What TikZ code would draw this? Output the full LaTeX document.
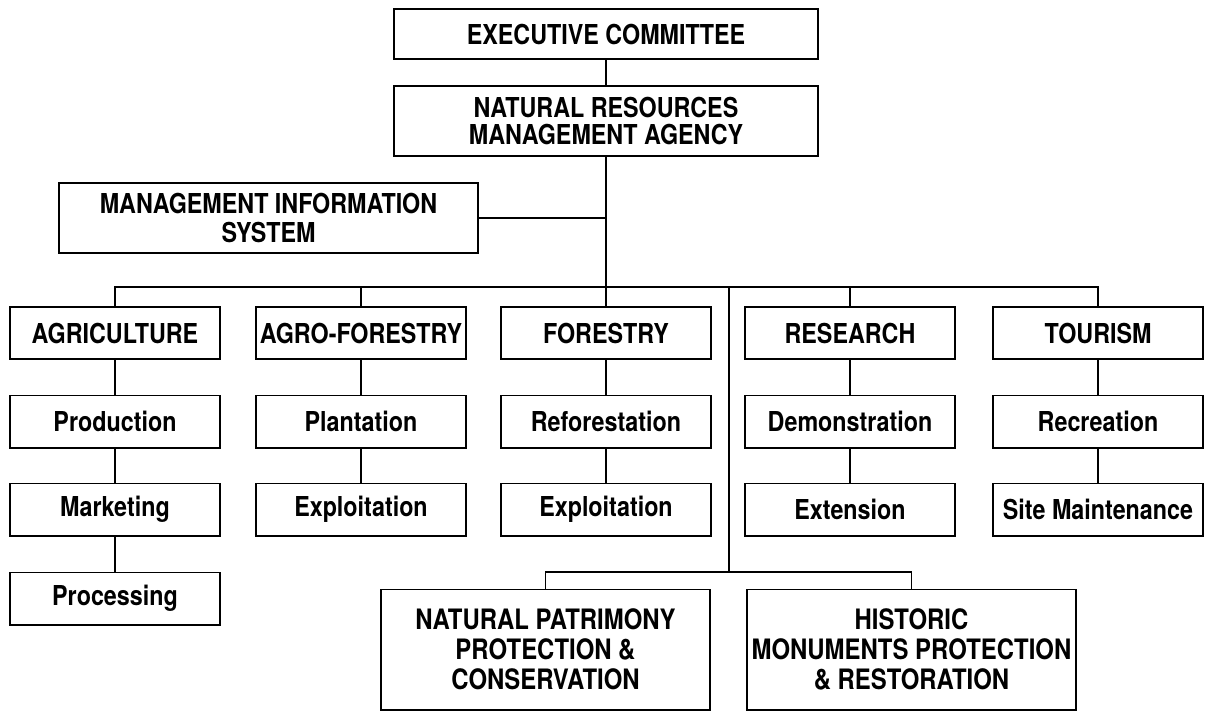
\documentclass[tikz,border=0pt]{standalone}
\usepackage{fontspec}
\setmainfont{TeX Gyre Heros}[FakeStretch=0.85]
\usetikzlibrary{positioning}

\begin{document}
\begin{tikzpicture}[
            x=0.025cm, y=-0.025cm,
            every node/.style={font=\fontsize{19.5}{19.5}\selectfont\bfseries},
            unit/.style={draw, line width=1.4pt, align=center, inner sep=0pt},
            post/.style={unit, minimum width=5.25cm, minimum height=1.3cm},
            wide/.style={unit, minimum width=8.225cm, minimum height=3cm,
                font=\fontsize{20}{21.5}\selectfont\bfseries},
            link/.style={line width=1.1pt}
        ]
            \useasboundingbox (0,0) rectangle (1208,712);
            % Top of the chart
            \node[unit, minimum width=10.6cm, minimum height=1.25cm] (exec) at (606,34) {EXECUTIVE COMMITTEE};
            \node[unit, minimum width=10.6cm, minimum height=1.75cm] (nrma) at (606,121) {NATURAL RESOURCES\\MANAGEMENT AGENCY};
            \node[unit, minimum width=10.475cm, minimum height=1.75cm,
                font=\fontsize{19.5}{20.5}\selectfont\bfseries] (mis) at (268.5,218) {MANAGEMENT INFORMATION\\SYSTEM};
            % Divisions
            \node[post] (agri) at (115,333) {AGRICULTURE};
            \node[post] (agro) at (361,333) {AGRO-FORESTRY};
            \node[post] (fore) at (606,333) {FORESTRY};
            \node[post] (rese) at (850,333) {RESEARCH};
            \node[post] (tour) at (1098,333) {TOURISM};
            % Sections
            \node[post] (prod) at (115,421.5) {Production};
            \node[post] (mark) at (115,509.5) {Marketing};
            \node[post] (proc) at (115,598.5) {Processing};
            \node[post] (plant) at (361,421.5) {Plantation};
            \node[post] (exag) at (361,509.5) {Exploitation};
            \node[post] (refo) at (606,421.5) {Reforestation};
            \node[post] (exfo) at (606,509.5) {Exploitation};
            \node[post] (demo) at (850,421.5) {Demonstration};
            \node[post] (exte) at (850,509.5) {Extension};
            \node[post] (recr) at (1098,421.5) {Recreation};
            \node[post] (site) at (1098,509.5) {Site Maintenance};
            % Protection units
            \node[wide] (nat) at (545.5,649.5) {NATURAL PATRIMONY\\PROTECTION \&\\CONSERVATION};
            \node[wide] (hist) at (911.5,649.5) {HISTORIC\\MONUMENTS PROTECTION\\\& RESTORATION};
            % Joints
            \coordinate (bus) at (606,287);
            \coordinate (drop) at (729,287);
            \coordinate (split) at (729,572);
            % Lines
            \draw[link] (exec) -- (nrma);
            \draw[link] (nrma) -- (fore);
            \draw[link] (mis.east) -- (mis.east -| nrma.south);
            \draw[link] (agri.north) |- (bus) -| (tour.north);
            \draw[link] (agro.north) -- (agro.north |- bus);
            \draw[link] (rese.north) -- (rese.north |- bus);
            \draw[link] (drop) -- (split);
            \draw[link] (nat.north) |- (split) -| (hist.north);
            \foreach \a/\b in {agri/prod, prod/mark, mark/proc, agro/plant, plant/exag,
                fore/refo, refo/exfo, rese/demo, demo/exte, tour/recr, recr/site}
                \draw[link] (\a) -- (\b);
        \end{tikzpicture}
\end{document}
